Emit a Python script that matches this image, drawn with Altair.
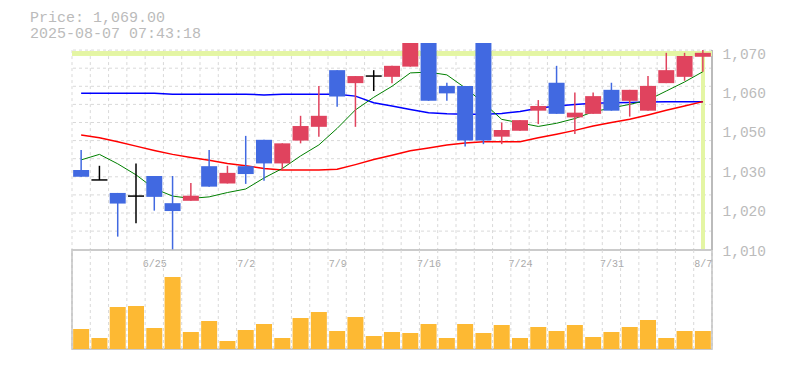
import altair as alt
import pandas as pd

# ---------------- data ----------------
dates = ["6/19", "6/20", "6/23", "6/24", "6/25", "6/26", "6/27", "6/30", "7/1", "7/2",
         "7/3", "7/4", "7/7", "7/8", "7/9", "7/10", "7/11", "7/14", "7/15", "7/16",
         "7/17", "7/18", "7/22", "7/23", "7/24", "7/25", "7/28", "7/29", "7/30", "7/31",
         "8/1", "8/4", "8/5", "8/6", "8/7"]
opens = [1040.3, 1037.8, 1034.5, 1033.7, 1038.8, 1031.9, 1032.5, 1041.3, 1036.9, 1041.3,
         1048.0, 1042.0, 1047.8, 1051.3, 1065.7, 1062.4, 1064.2, 1064.0, 1066.6, 1073.0,
         1061.7, 1061.7, 1073.0, 1048.8, 1050.3, 1055.4, 1062.5, 1053.7, 1054.6, 1060.7,
         1057.9, 1055.4, 1062.4, 1064.0, 1069.1]
highs = [1045.4, 1041.4, 1034.5, 1042.0, 1038.8, 1038.8, 1037.0, 1045.4, 1041.4, 1049.0,
         1048.0, 1047.1, 1054.1, 1061.7, 1065.7, 1064.2, 1065.7, 1066.8, 1073.0, 1073.0,
         1062.5, 1061.7, 1073.0, 1052.4, 1053.0, 1058.1, 1066.8, 1060.0, 1060.0, 1062.5,
         1060.7, 1064.2, 1070.1, 1070.1, 1070.8]
lows = [1038.6, 1037.8, 1023.4, 1026.8, 1030.0, 1020.0, 1032.5, 1036.1, 1036.9, 1036.8,
        1037.6, 1040.3, 1047.1, 1048.8, 1056.4, 1051.3, 1060.4, 1062.4, 1066.6, 1057.9,
        1057.9, 1046.3, 1046.9, 1046.9, 1050.3, 1052.0, 1054.6, 1049.5, 1054.6, 1055.4,
        1053.9, 1055.4, 1062.4, 1063.0, 1065.3]
closes = [1038.6, 1037.8, 1031.8, 1033.7, 1033.5, 1029.9, 1033.8, 1036.1, 1039.6, 1039.3,
          1042.0, 1047.1, 1051.5, 1054.1, 1059.0, 1064.2, 1064.2, 1066.8, 1073.0, 1057.9,
          1059.8, 1047.8, 1047.8, 1050.5, 1053.0, 1056.6, 1054.6, 1054.9, 1059.1, 1055.4,
          1060.7, 1061.7, 1065.7, 1069.3, 1070.1]
ma_short = [1042.9, 1044.3, 1041.9, 1039.1, 1035.6, 1033.7, 1033.1, 1033.5, 1034.6, 1035.5,
            1038.3, 1040.7, 1043.9, 1046.7, 1050.9, 1055.6, 1058.8, 1061.6, 1065.0, 1065.2,
            1064.5, 1061.2, 1057.4, 1053.2, 1052.3, 1051.4, 1052.2, 1053.4, 1055.1, 1056.1,
            1057.0, 1058.1, 1060.4, 1062.7, 1065.3]
ma_mid = [1049.2, 1048.5, 1047.5, 1046.4, 1045.3, 1044.3, 1043.5, 1042.8, 1042.0, 1041.4,
          1040.7, 1040.3, 1040.3, 1040.3, 1040.5, 1041.7, 1043.0, 1044.1, 1045.2, 1045.9,
          1046.7, 1047.2, 1047.5, 1047.5, 1047.5, 1048.5, 1049.4, 1050.4, 1051.5, 1052.4,
          1053.2, 1054.3, 1055.5, 1056.6, 1057.7]
ma_long = [1059.8, 1059.8, 1059.8, 1059.8, 1059.8, 1059.6, 1059.6, 1059.6, 1059.6, 1059.6,
           1059.4, 1059.6, 1059.6, 1059.6, 1059.6, 1059.1, 1057.4, 1056.6, 1055.7, 1054.9,
           1054.6, 1054.5, 1054.5, 1054.7, 1055.2, 1056.0, 1056.6, 1057.0, 1057.3, 1057.4,
           1057.5, 1057.6, 1057.7, 1057.7, 1057.7]
volumes = [20, 11, 42, 43, 21, 72, 17, 28, 8, 19, 25, 11, 31, 37, 18, 32, 13, 17, 16, 25,
           11, 25, 16, 24, 11, 22, 18, 24, 12, 17, 22, 29, 11, 18, 18]

current_price = 1070.0
price_text = "Price: 1,069.00"
time_text = "2025-08-07 07:43:18"

ytick_values = [1070, 1060, 1050, 1040, 1030, 1020]
ytick_labels = ["1,070", "1,060", "1,050", "1,030", "1,020", "1,010"]
hgrid_values = [1070.8, 1066.2, 1061.6, 1057.0, 1052.4, 1047.8, 1043.2, 1038.6, 1034.0, 1029.4, 1024.8]
date_labels = ["6/25", "7/2", "7/9", "7/16", "7/24", "7/31", "8/7"]

# ---------------- styling ----------------
RED = "#E0435E"
BLUE = "#4169E1"
ORANGE = "#FDB933"
GRID = "#d9d9d9"
FRAME = "#bbbbbb"
HILITE = "#E4F5A4"
FONT = "Liberation Mono"

n = len(dates)
y_lo, y_hi = 1020.0, 1072.6
grid_top = hgrid_values[0]

df = pd.DataFrame({
    "date": dates, "open": opens, "high": highs, "low": lows, "close": closes,
    "ma_s": ma_short, "ma_m": ma_mid, "ma_l": ma_long, "vol": volumes,
})
df["pos"] = [i + 0.5 for i in range(n)]
df["dir"] = ["up" if c > o else ("down" if c < o else "flat") for o, c in zip(opens, closes)]

bounds_df = pd.DataFrame({"b": list(range(n + 1))})
hgrid_df = pd.DataFrame({"v": hgrid_values})

xs = alt.Scale(domain=[0, n], nice=False, zero=False, padding=0)
ys = alt.Scale(domain=[y_lo, y_hi], nice=False, zero=False, padding=0)
cscale = alt.Scale(domain=["up", "down", "flat"], range=[RED, BLUE, "#000000"])

y_label_expr = " : ".join(
    f"datum.value == {v} ? '{t}'" for v, t in zip(ytick_values, ytick_labels)
) + " : ''"

pos_of = {d: i + 0.5 for i, d in enumerate(dates)}
label_pos = [pos_of[d] for d in date_labels]
x_label_expr = " : ".join(
    f"datum.value == {p} ? '{d}'" for p, d in zip(label_pos, date_labels)
) + " : ''"

base = alt.Chart(df)

# ---- price panel ----
hgrid = alt.Chart(hgrid_df).mark_rule(color=GRID, strokeDash=[3, 3], strokeWidth=1).encode(
    y=alt.Y("v:Q", scale=ys, axis=alt.Axis(
        orient="right", values=ytick_values, labelExpr=y_label_expr, grid=False,
        ticks=False, domain=False, labelPadding=10, labelAlign="left", labelOffset=1,
        labelFont=FONT, labelFontSize=14.5, labelColor=FRAME, title=None)),
)
vgrid = alt.Chart(bounds_df).mark_rule(color=GRID, strokeDash=[3, 3], strokeWidth=1).encode(
    x=alt.X("b:Q", scale=xs, axis=None),
    y=alt.datum(grid_top),
    y2=alt.datum(y_lo),
)
frame_right = alt.Chart(bounds_df).mark_rule(color=FRAME, strokeWidth=1.5).encode(
    x=alt.datum(n), y=alt.datum(grid_top), y2=alt.datum(y_lo),
)
cur_h = alt.Chart(bounds_df).mark_rule(color=HILITE, strokeWidth=4).encode(
    y=alt.datum(current_price),
)
cur_v = alt.Chart(bounds_df).mark_rule(color=HILITE, strokeWidth=3).encode(
    x=alt.datum(df["pos"].iloc[-1]), y=alt.datum(current_price), y2=alt.datum(1020.3),
)
line_long = base.mark_line(color="#0000FF", strokeWidth=1.5).encode(
    x=alt.X("pos:Q", scale=xs), y=alt.Y("ma_l:Q", scale=ys))
line_mid = base.mark_line(color="#FF0000", strokeWidth=1.5).encode(
    x=alt.X("pos:Q", scale=xs), y=alt.Y("ma_m:Q", scale=ys))
line_short = base.mark_line(color="#008000", strokeWidth=1).encode(
    x=alt.X("pos:Q", scale=xs), y=alt.Y("ma_s:Q", scale=ys))
wicks = base.mark_rule(strokeWidth=1.5, clip=True).encode(
    x=alt.X("pos:Q", scale=xs),
    y=alt.Y("low:Q", scale=ys),
    y2="high:Q",
    color=alt.Color("dir:N", scale=cscale, legend=None),
)
bodies = base.transform_filter("datum.dir != 'flat'").mark_bar(size=16, clip=True).encode(
    x=alt.X("pos:Q", scale=xs),
    y=alt.Y("open:Q", scale=ys),
    y2="close:Q",
    color=alt.Color("dir:N", scale=cscale, legend=None),
)
doji = base.transform_filter("datum.dir == 'flat'").mark_tick(
    orient="horizontal", size=16, thickness=1.5, color="#000000", opacity=1).encode(
    x=alt.X("pos:Q", scale=xs),
    y=alt.Y("open:Q", scale=ys),
)

price = alt.layer(
    hgrid, vgrid, frame_right, cur_h, cur_v, line_long, line_mid, line_short,
    wicks, bodies, doji,
).properties(width=640, height=207, view=alt.ViewBackground(stroke=None))

# ---- volume panel ----
vs = alt.Scale(domain=[0, 99], nice=False, zero=True, padding=0)
vgrid2 = alt.Chart(bounds_df).mark_rule(color=GRID, strokeDash=[3, 3], strokeWidth=1).encode(
    x=alt.X("b:Q", scale=xs, axis=alt.Axis(
        orient="top", values=label_pos, labelExpr=x_label_expr, ticks=False,
        domain=False, grid=False, labelPadding=-8, labelBaseline="top",
        labelFlush=False, labelFont=FONT, labelFontSize=10, labelColor="#aaaaaa",
        title=None)),
)
vbars = base.mark_bar(size=16, color=ORANGE).encode(
    x=alt.X("pos:Q", scale=xs),
    y=alt.Y("vol:Q", scale=vs, axis=None),
)
volume = alt.layer(vgrid2, vbars).properties(
    width=640, height=99,
    view=alt.ViewBackground(stroke=FRAME, strokeWidth=1.5),
)

chart = alt.vconcat(
    price, volume, spacing=0, bounds="flush",
    title=alt.TitleParams(
        text=[price_text, time_text], anchor="start", font=FONT, fontSize=15,
        fontWeight="normal", color=FRAME, dx=-40, offset=2, lineHeight=16),
    padding={"left": 22, "top": 2, "right": 5, "bottom": 2},
).configure(background="white")

chart.save("out.html", embed_options={"renderer": "svg", "actions": False})
